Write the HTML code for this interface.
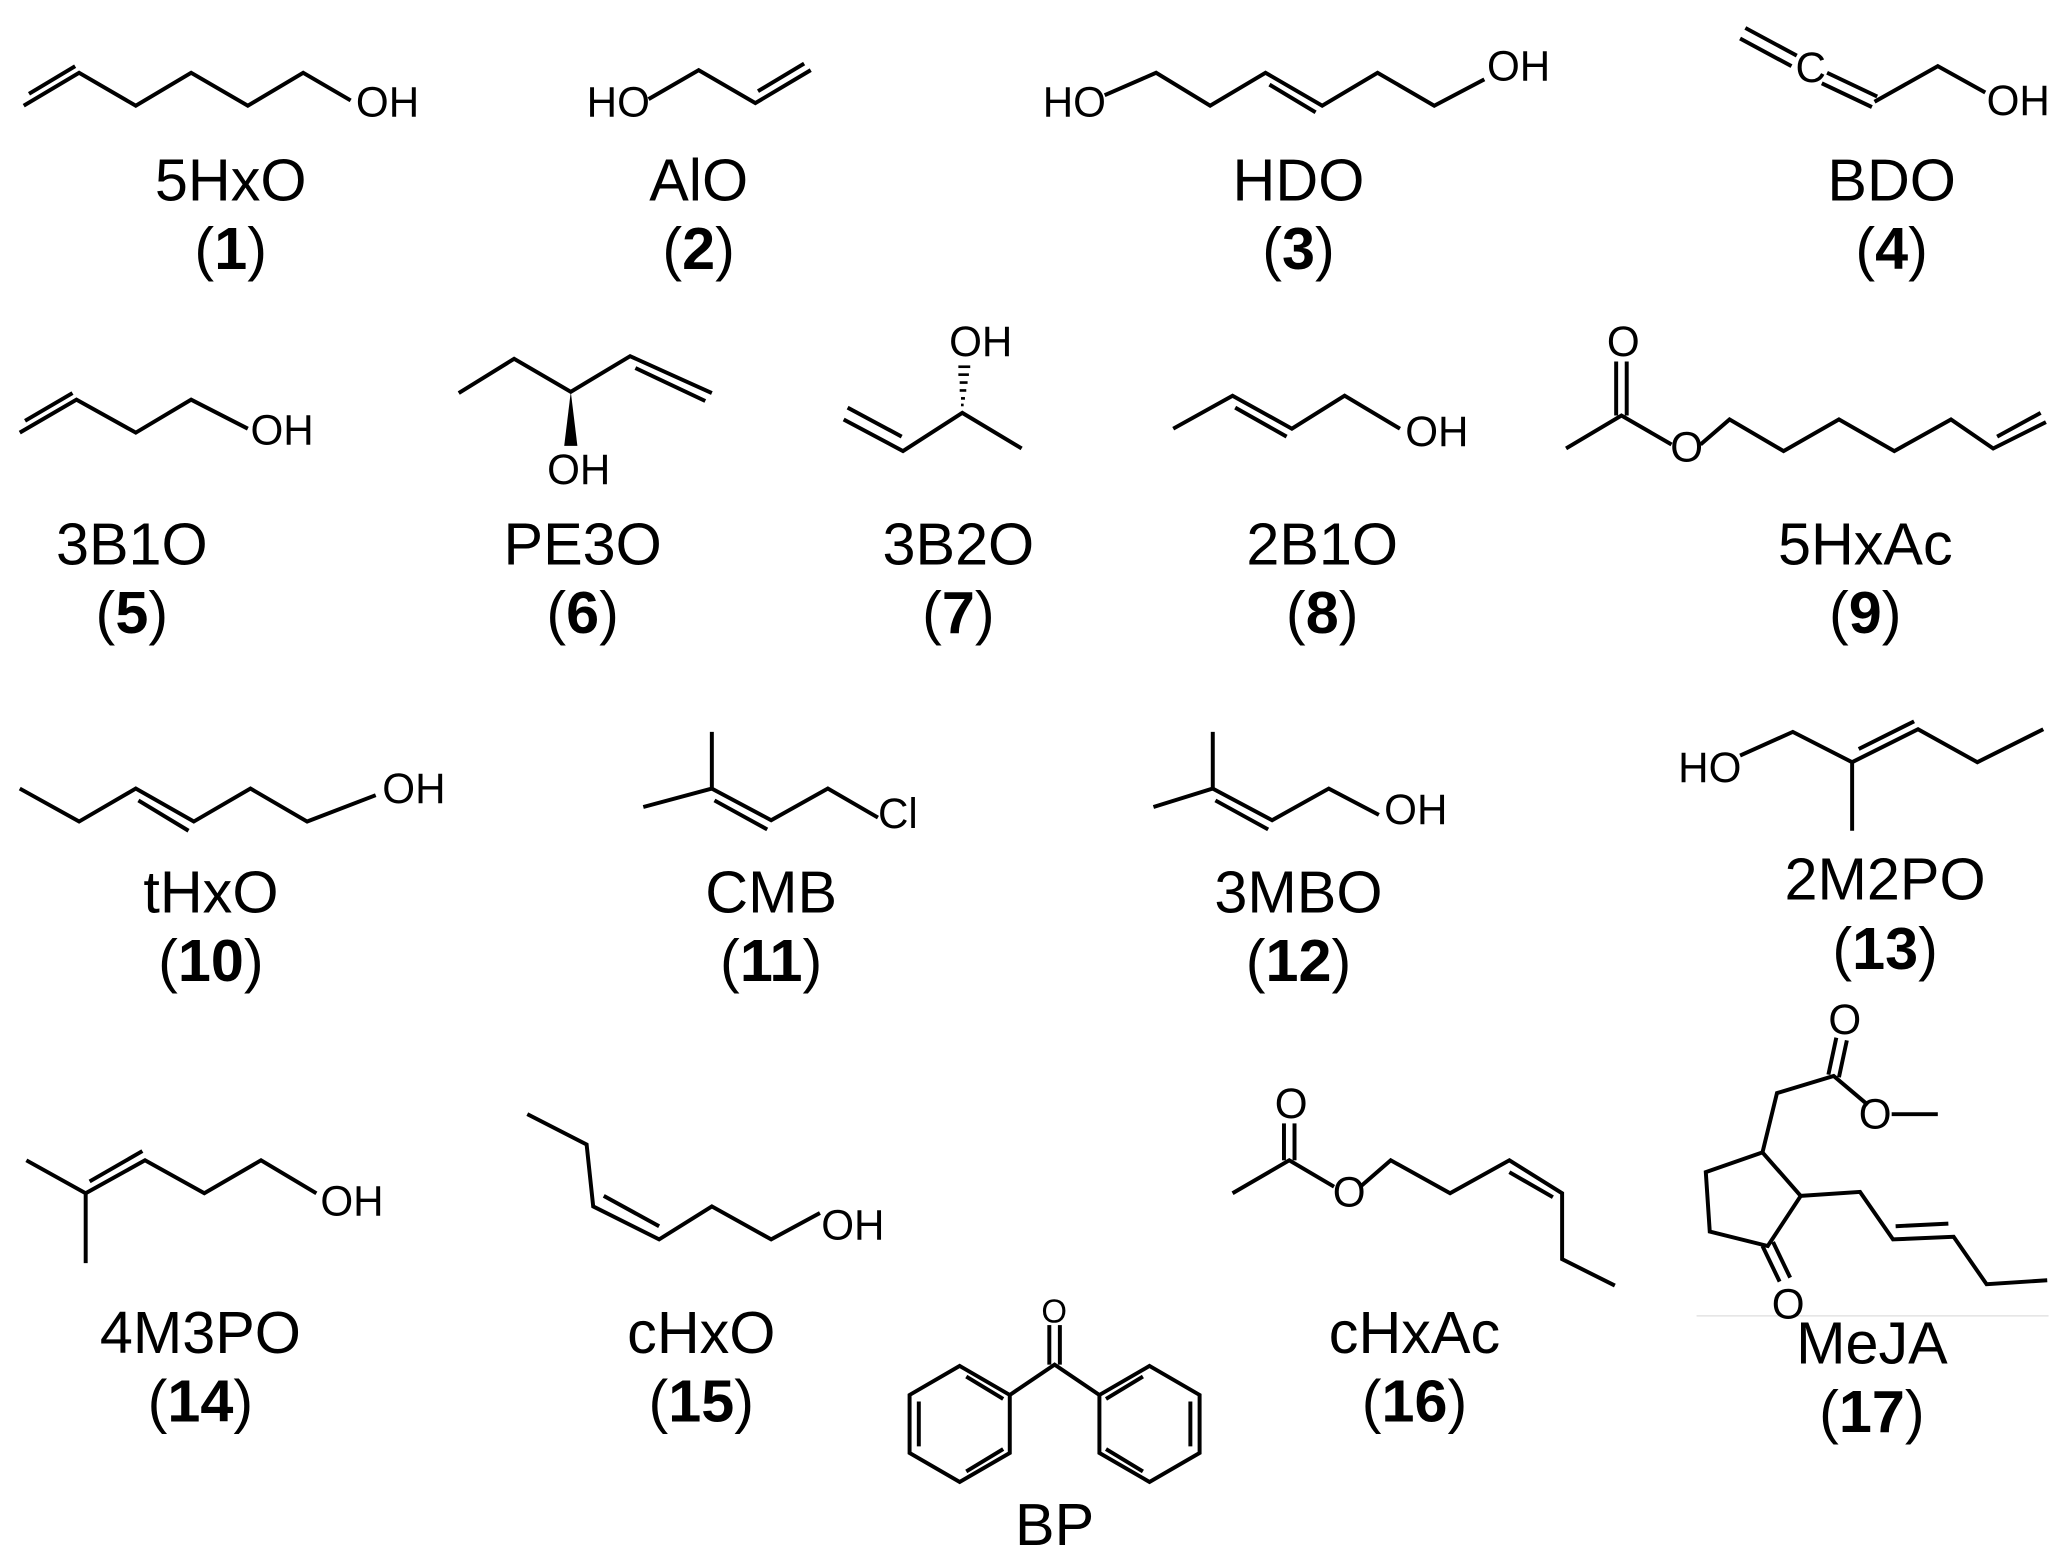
<!DOCTYPE html>
<html><head><meta charset="utf-8"><style>
html,body{margin:0;padding:0;background:#fff;}
svg{display:block}
text{font-family:"Liberation Sans",Arial,sans-serif;fill:#000}
.l{font-size:45px;text-anchor:middle}
.a{font-size:32px}
</style></head><body>
<svg width="2067" height="1560" viewBox="0 0 1568 1183" xmlns="http://www.w3.org/2000/svg">
<g fill="none" stroke="#000" stroke-width="3" stroke-linejoin="miter">
<polyline points="18,80 60,55 103,80 145,55 188,80 230,55 266,76"/>
<line x1="22" y1="71" x2="57" y2="50"/>
<polyline points="492,75 530,53 573,78 615,53"/>
<line x1="575" y1="69" x2="610" y2="48"/>
<polyline points="838,72 877,55 918,80 960,55 1003,80 1045,55 1088,80 1126,60"/>
<line x1="963" y1="64" x2="998" y2="85"/>
<line x1="1324" y1="21" x2="1363" y2="42"/>
<line x1="1320" y1="29" x2="1359" y2="50"/>
<line x1="1386" y1="55" x2="1424" y2="73"/>
<line x1="1382" y1="63" x2="1420" y2="81"/>
<polyline points="1422,77 1470,50 1506,70"/>
<polyline points="15,328 58,303 103,328 145,303 188,325"/>
<line x1="19" y1="319" x2="55" y2="298"/>
<polyline points="348,298 390,272 433,297 478,270 540,298"/>
<line x1="482" y1="279" x2="535" y2="304"/>
<polyline points="640,318 685,342 730,313 775,340"/>
<line x1="643" y1="309" x2="684" y2="331"/>
<polyline points="890,325 935,300 980,325 1020,300 1062,325"/>
<line x1="937" y1="309" x2="976" y2="331"/>
<polyline points="1188,340 1230,315 1268,337"/>
<line x1="1226" y1="315" x2="1226" y2="274"/>
<line x1="1234" y1="315" x2="1234" y2="274"/>
<polyline points="1290,337 1312,318 1353,342 1395,318 1437,342 1480,318 1512,340 1552,320"/>
<line x1="1515" y1="331" x2="1548" y2="313"/>
<polyline points="15,598 60,623 103,598 147,623 190,598 233,623 285,603"/>
<line x1="105" y1="607" x2="143" y2="630"/>
<polyline points="540,555 540,598 488,612"/>
<polyline points="540,598 585,622 628,598 666,620"/>
<line x1="542" y1="607" x2="582" y2="629"/>
<polyline points="920,555 920,598 875,612"/>
<polyline points="920,598 965,622 1008,598 1046,618"/>
<line x1="922" y1="607" x2="962" y2="629"/>
<polyline points="1320,573 1360,555 1405,578 1405,630"/>
<polyline points="1405,578 1455,553 1500,578 1550,553"/>
<line x1="1410" y1="568" x2="1452" y2="547"/>
<polyline points="20,880 65,905 65,958"/>
<polyline points="65,905 110,880 155,905 198,880 240,905"/>
<line x1="68" y1="896" x2="108" y2="873"/>
<polyline points="400,845 445,868 450,915 500,940 540,915 585,940 622,920"/>
<line x1="458" y1="907" x2="500" y2="930"/>
<polyline points="935,905 978,880 1012,900"/>
<line x1="974" y1="880" x2="974" y2="852"/>
<line x1="982" y1="880" x2="982" y2="852"/>
<polyline points="1032,900 1055,880 1100,905 1145,880 1185,905 1185,955 1225,975"/>
<line x1="1145" y1="889" x2="1178" y2="908"/>
<polygon points="1337,874 1294,889 1297,934 1341,945 1366,907"/>
<polyline points="1337,874 1348,829 1391,816 1417,838"/>
<line x1="1387" y1="815" x2="1393" y2="787"/>
<line x1="1395" y1="817" x2="1401" y2="789"/>
<line x1="1435" y1="845" x2="1470" y2="845"/>
<line x1="1337" y1="945" x2="1350" y2="972"/>
<line x1="1345" y1="942" x2="1358" y2="969"/>
<polyline points="1366,907 1411,904 1436,940 1482,938 1507,974 1553,971"/>
<line x1="1438" y1="930" x2="1478" y2="928"/>
<line x1="1287" y1="998" x2="1554" y2="998" stroke="#ddd" stroke-width="1"/>
<line x1="796" y1="1035" x2="796" y2="1005"/>
<line x1="804" y1="1035" x2="804" y2="1005"/>
<polyline points="766,1058 800,1035 834,1058"/>
<polygon points="728,1036 766,1058 766,1102 728,1124 690,1102 690,1058"/>
<polygon points="872,1036 910,1058 910,1102 872,1124 834,1102 834,1058"/>
<line x1="697" y1="1063" x2="697" y2="1097"/>
<line x1="733" y1="1116" x2="761" y2="1099"/>
<line x1="733" y1="1044" x2="761" y2="1061"/>
<line x1="903" y1="1063" x2="903" y2="1097"/>
<line x1="867" y1="1116" x2="839" y2="1099"/>
<line x1="867" y1="1044" x2="839" y2="1061"/>
</g>
<polygon points="433,297 428,338 438,338" fill="#000"/>
<g stroke="#000" stroke-width="2">
<line x1="730" y1="308" x2="730" y2="306"/>
<line x1="729" y1="302" x2="732" y2="302"/>
<line x1="728" y1="296" x2="733" y2="296"/>
<line x1="728" y1="290" x2="734" y2="290"/>
<line x1="727" y1="284" x2="735" y2="284"/>
<line x1="727" y1="278" x2="736" y2="278"/>
</g>
<text class="a" x="270" y="88">OH</text>
<text class="a" x="445" y="88">HO</text>
<text class="a" x="791" y="88">HO</text>
<text class="a" x="1128" y="61">OH</text>
<text class="a" x="1362" y="62">C</text>
<text class="a" x="1507" y="87">OH</text>
<text class="a" x="190" y="337">OH</text>
<text class="a" x="415" y="367">OH</text>
<text class="a" x="720" y="270">OH</text>
<text class="a" x="1066" y="338">OH</text>
<text class="a" x="1219" y="270">O</text>
<text class="a" x="1267" y="350">O</text>
<text class="a" x="290" y="609">OH</text>
<text class="a" x="666" y="628">Cl</text>
<text class="a" x="1050" y="625">OH</text>
<text class="a" x="1273" y="593">HO</text>
<text class="a" x="243" y="922">OH</text>
<text class="a" x="623" y="940">OH</text>
<text class="a" x="967" y="848">O</text>
<text class="a" x="1011" y="915">O</text>
<text class="a" x="1387" y="784">O</text>
<text class="a" x="1410" y="856">O</text>
<text class="a" x="1344" y="1000">O</text>
<text class="a" x="790" y="1003" style="font-size:25px">O</text>
<text class="l" x="175" y="152">5HxO</text><text class="l" x="175" y="204">(<tspan font-weight="bold">1</tspan>)</text>
<text class="l" x="530" y="152">AlO</text><text class="l" x="530" y="204">(<tspan font-weight="bold">2</tspan>)</text>
<text class="l" x="985" y="152">HDO</text><text class="l" x="985" y="204">(<tspan font-weight="bold">3</tspan>)</text>
<text class="l" x="1435" y="152">BDO</text><text class="l" x="1435" y="204">(<tspan font-weight="bold">4</tspan>)</text>
<text class="l" x="100" y="428">3B1O</text><text class="l" x="100" y="480">(<tspan font-weight="bold">5</tspan>)</text>
<text class="l" x="442" y="428">PE3O</text><text class="l" x="442" y="480">(<tspan font-weight="bold">6</tspan>)</text>
<text class="l" x="727" y="428">3B2O</text><text class="l" x="727" y="480">(<tspan font-weight="bold">7</tspan>)</text>
<text class="l" x="1003" y="428">2B1O</text><text class="l" x="1003" y="480">(<tspan font-weight="bold">8</tspan>)</text>
<text class="l" x="1415" y="428">5HxAc</text><text class="l" x="1415" y="480">(<tspan font-weight="bold">9</tspan>)</text>
<text class="l" x="160" y="692">tHxO</text><text class="l" x="160" y="744">(<tspan font-weight="bold">10</tspan>)</text>
<text class="l" x="585" y="692">CMB</text><text class="l" x="585" y="744">(<tspan font-weight="bold">11</tspan>)</text>
<text class="l" x="985" y="692">3MBO</text><text class="l" x="985" y="744">(<tspan font-weight="bold">12</tspan>)</text>
<text class="l" x="1430" y="682">2M2PO</text><text class="l" x="1430" y="735">(<tspan font-weight="bold">13</tspan>)</text>
<text class="l" x="152" y="1026">4M3PO</text><text class="l" x="152" y="1078">(<tspan font-weight="bold">14</tspan>)</text>
<text class="l" x="532" y="1026">cHxO</text><text class="l" x="532" y="1078">(<tspan font-weight="bold">15</tspan>)</text>
<text class="l" x="1073" y="1026">cHxAc</text><text class="l" x="1073" y="1078">(<tspan font-weight="bold">16</tspan>)</text>
<text class="l" x="1420" y="1034">MeJA</text><text class="l" x="1420" y="1086">(<tspan font-weight="bold">17</tspan>)</text>
<text class="l" x="800" y="1172">BP</text>
</svg>
</body></html>
